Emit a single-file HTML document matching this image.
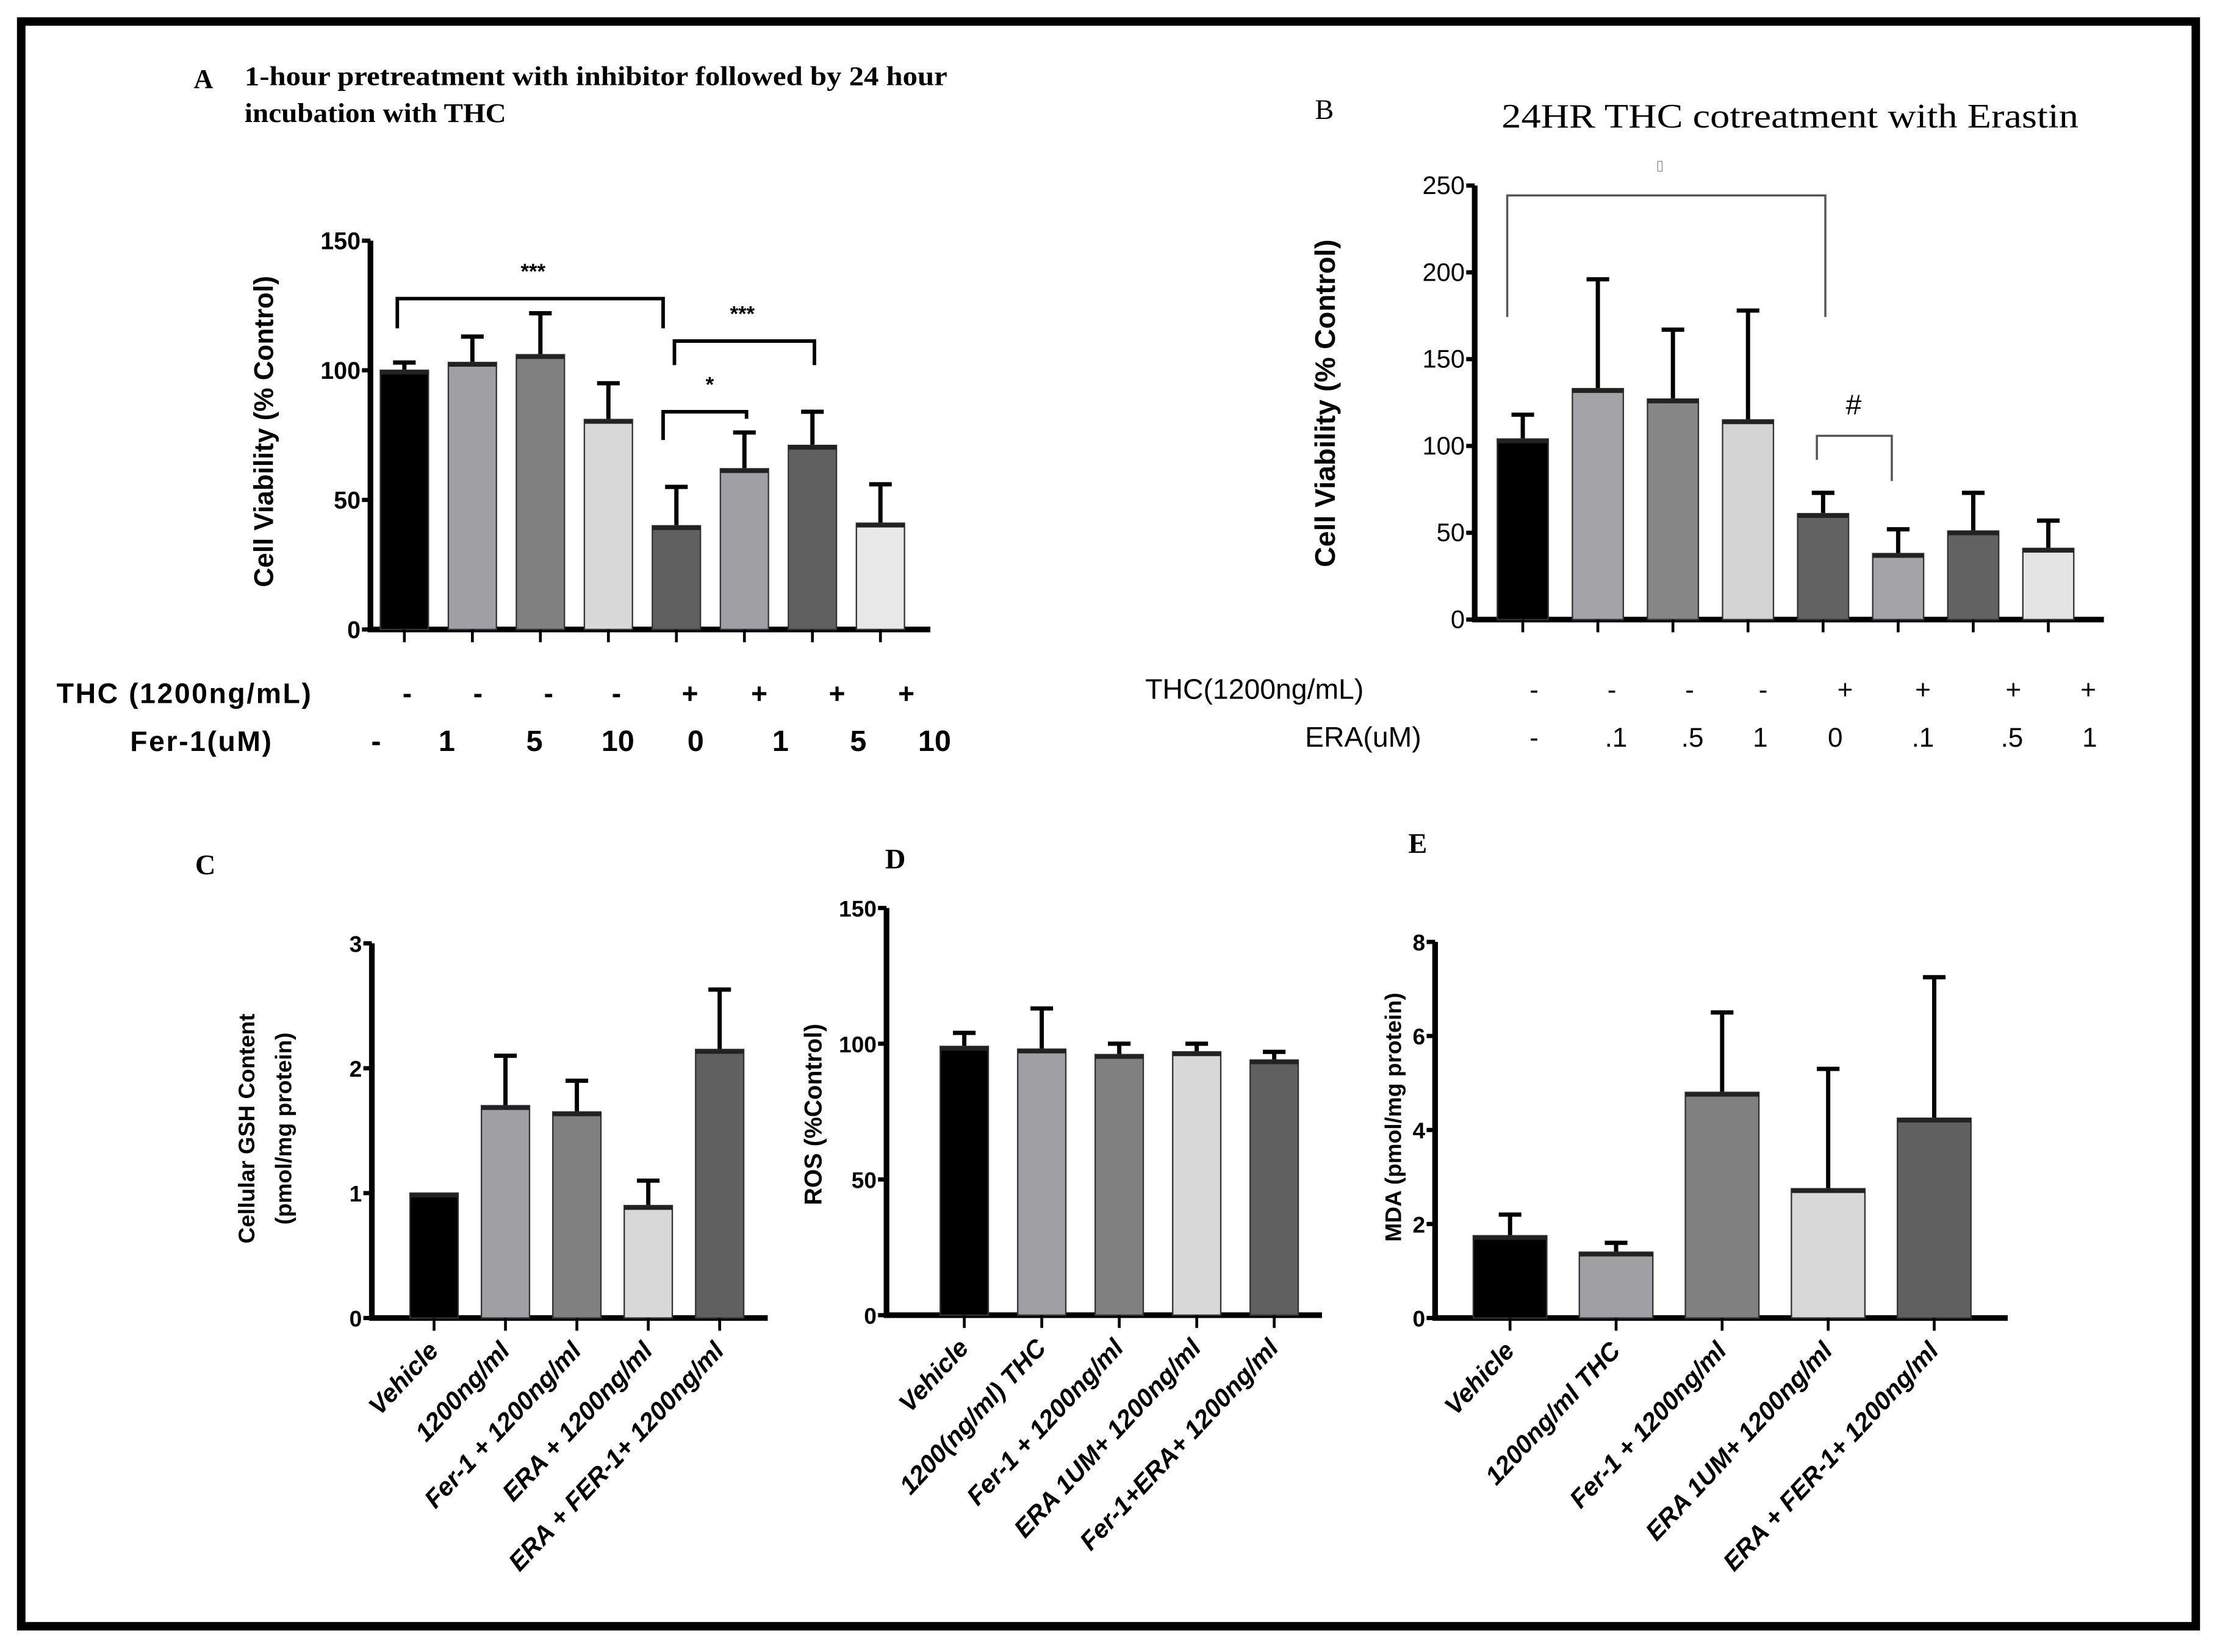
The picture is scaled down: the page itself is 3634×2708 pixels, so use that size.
<!DOCTYPE html>
<html><head><meta charset="utf-8"><style>
html,body{margin:0;padding:0;background:#fff}
svg{display:block}
text{font-family:"Liberation Sans",sans-serif}
.serif{font-family:"Liberation Serif",serif}
</style></head><body>
<svg id="fig" xmlns="http://www.w3.org/2000/svg" width="3634" height="2708" viewBox="0 0 1568 1168">
<rect x="0" y="0" width="1568" height="1168" fill="#fff"/>
<rect x="15" y="15" width="1538" height="1135" fill="none" stroke="#000" stroke-width="6"/>
<g id="root"></g>
</svg>
<script>
// Panel A
const aCats = ["1","2","3","4","5","6","7","8"];
const aVals = [100, 103, 106, 81, 40, 62, 71, 41];
const aErrs = [103, 113, 122, 95, 55, 76, 84, 56];
const aTicks = [0, 50, 100, 150];
const aRow1 = ["-","-","-","-","+","+","+","+"];
const aRow2 = ["-","1","5","10","0","1","5","10"];
// Panel B
const bCats = ["1","2","3","4","5","6","7","8"];
const bVals = [104, 133, 127, 115, 61, 38, 51, 41];
const bErrs = [118, 196, 167, 178, 73, 52, 73, 57];
const bTicks = [0, 50, 100, 150, 200, 250];
const bRow1 = ["-","-","-","-","+","+","+","+"];
const bRow2 = ["-",".1",".5","1","0",".1",".5","1"];
// Panel C
const cCats = ["Vehicle","1200ng/ml","Fer-1 + 1200ng/ml","ERA + 1200ng/ml","ERA + FER-1+ 1200ng/ml"];
const cVals = [1.0, 1.7, 1.65, 0.9, 2.15];
const cErrs = [1.0, 2.1, 1.9, 1.1, 2.63];
const cTicks = [0, 1, 2, 3];
// Panel D
const dCats = ["Vehicle","1200(ng/ml) THC","Fer-1 + 1200ng/ml","ERA 1UM+ 1200ng/ml","Fer-1+ERA+ 1200ng/ml"];
const dVals = [99, 98, 96, 97, 94];
const dErrs = [104, 113, 100, 100, 97];
const dTicks = [0, 50, 100, 150];
// Panel E
const eCats = ["Vehicle","1200ng/ml THC","Fer-1 + 1200ng/ml","ERA 1UM+ 1200ng/ml","ERA + FER-1+ 1200ng/ml"];
const eVals = [1.75, 1.4, 4.8, 2.75, 4.25];
const eErrs = [2.2, 1.6, 6.5, 5.3, 7.25];
const eTicks = [0, 2, 4, 6, 8];

const NS = "http://www.w3.org/2000/svg";
const root = document.getElementById('root');
function el(tag, attrs, parent, txt){
  const e = document.createElementNS(NS, tag);
  for (const k in attrs) e.setAttribute(k, attrs[k]);
  if (txt !== undefined) e.textContent = txt;
  (parent || root).appendChild(e);
  return e;
}
function panel(p){
  const g = el('g', {});
  
  
  const y = v => p.y0 - (v - p.min) / (p.max - p.min) * (p.y0 - p.yTop);
  const x = i => p.x1 + i * p.step;
  const ya = el('line', {x1:p.ax, y1:p.yTop, x2:p.ax, y2:p.y0, stroke:'#000','stroke-width':4}, g);
  
  
  const xa = el('line', {x1:p.ax-2, y1:p.y0, x2:p.axEnd, y2:p.y0, stroke:'#000','stroke-width':4}, g);
  
  
  p.ticks.forEach(t => {
    el('line', {x1:p.ax-6, y1:y(t), x2:p.ax, y2:y(t), stroke:'#000','stroke-width':3}, g);
    const tl = el('text', {x:p.ax-7, y:y(t)+6, 'text-anchor':'end','font-size':p.tickFs,'font-weight':p.bold?'bold':'normal'}, g, String(t));
    
    
  });
  p.vals.forEach((v, i) => {
    const cx = x(i);
    const e = el('line', {x1:cx, y1:y(v), x2:cx, y2:y(p.errs[i]), stroke:'#000','stroke-width':3}, g);
    
    
    if (p.errs[i] > v) el('line', {x1:cx-8, y1:y(p.errs[i]), x2:cx+8, y2:y(p.errs[i]), stroke:'#000','stroke-width':3}, g);
    const r = el('rect', {x:cx-p.bw/2, y:y(v), width:p.bw, height:p.y0-y(v), fill:p.colors[i], stroke:'#333','stroke-width':1}, g);
    
    
    el('line', {x1:cx-p.bw/2, y1:y(v)+1.5, x2:cx+p.bw/2, y2:y(v)+1.5, stroke:'#222','stroke-width':3}, g);
    el('line', {x1:cx, y1:p.y0, x2:cx, y2:p.y0+9, stroke:'#000','stroke-width':2}, g);
    if (p.rot) {
      const lt = el('text', {x:cx+4, y:p.y0+24, 'text-anchor':'end','font-size':18,'font-weight':'bold','font-style':'italic', transform:`rotate(-47 ${cx+4} ${p.y0+24})`}, g, p.cats[i]);
      
      
    }
  });
  return {g, x, y};
}
const shades = ["#000","#a0a0a4","#808080","#d8d8d8","#606060","#a0a0a4","#606060","#e8e8e8"];
// A
const A = panel({name:'panel-a', ax:262, axEnd:658, yTop:170, y0:445, min:0, max:150, ticks:aTicks, vals:aVals, errs:aErrs, cats:aCats, x1:286, step:48.1, bw:34, colors:shades, tickFs:17, bold:true});
[[281,469,211,232,232,'***',377],[477,576,241,258,258,'***',525],[469,528,291,311,296,'*',502]].forEach(b=>{
  const br = el('path', {d:`M${b[0]} ${b[3]} V${b[2]} H${b[1]} V${b[4]}`, fill:'none', stroke:'#000','stroke-width':2.5}, A.g);
  
  
  el('text', {x:b[6], y:b[2]-14, 'text-anchor':'middle','font-size':15,'font-weight':'bold'}, A.g, b[5]);
});
const aR1x=[288,338,388,436,488,537,592,641], aR2x=[266,316,378,437,492,552,607,661];
aRow1.forEach((t,i)=>el('text',{x:aR1x[i],y:497,'text-anchor':'middle','font-size':20,'font-weight':'bold'},A.g,t));
aRow2.forEach((t,i)=>el('text',{x:aR2x[i],y:531,'text-anchor':'middle','font-size':21,'font-weight':'bold'},A.g,t));
el('text',{x:40,y:497,'font-size':20,'font-weight':'bold','textLength':180},A.g,'THC (1200ng/mL)');
el('text',{x:92,y:531,'font-size':20,'font-weight':'bold','textLength':100},A.g,'Fer-1(uM)');
el('text',{x:0,y:0,'text-anchor':'middle','font-size':19,'font-weight':'bold',transform:'translate(193 305) rotate(-90)'},A.g,'Cell Viability (% Control)');
el('text',{x:137,y:62,'font-size':19,'font-weight':'bold',class:'serif'},A.g,'A');
el('text',{x:173,y:60,'font-size':19,'font-weight':'bold',class:'serif','textLength':497,'lengthAdjust':'spacingAndGlyphs'},A.g,'1-hour pretreatment with inhibitor followed by 24 hour');
el('text',{x:173,y:86,'font-size':19,'font-weight':'bold',class:'serif','textLength':185,'lengthAdjust':'spacingAndGlyphs'},A.g,'incubation with THC');
// B
const bShades=["#000","#a4a4a8","#868686","#d4d4d4","#626262","#a4a4a8","#626262","#e4e4e4"];
const B = panel({name:'panel-b', ax:1043, axEnd:1488, yTop:131, y0:438, min:0, max:250, ticks:bTicks, vals:bVals, errs:bErrs, cats:bCats, x1:1077, step:53.1, bw:36, colors:bShades, tickFs:18, bold:false});
el('path',{d:'M1066 224 V138 H1291 V224',fill:'none',stroke:'#555','stroke-width':1.5},B.g);
el('text',{x:1174,y:120,'text-anchor':'middle','font-size':10,fill:'#888'},B.g,'▯');
el('path',{d:'M1285 325 V308 H1338 V340',fill:'none',stroke:'#555','stroke-width':1.5},B.g);
el('text',{x:1311,y:293,'text-anchor':'middle','font-size':20},B.g,'#');
const bR1x=[1085,1140,1195,1247,1305,1360,1424,1477], bR2x=[1085,1143,1197,1245,1298,1360,1423,1478];
bRow1.forEach((t,i)=>el('text',{x:bR1x[i],y:494,'text-anchor':'middle','font-size':19},B.g,t));
bRow2.forEach((t,i)=>el('text',{x:bR2x[i],y:528,'text-anchor':'middle','font-size':19},B.g,t));
el('text',{x:810,y:494,'font-size':20},B.g,'THC(1200ng/mL)');
el('text',{x:923,y:528,'font-size':20},B.g,'ERA(uM)');
el('text',{x:0,y:0,'text-anchor':'middle','font-size':20,'font-weight':'bold',transform:'translate(944 285) rotate(-90)'},B.g,'Cell Viability (% Control)');
el('text',{x:930,y:84,'font-size':20,class:'serif'},B.g,'B');
el('text',{x:1062,y:90,'font-size':24,class:'serif','textLength':408,'lengthAdjust':'spacingAndGlyphs'},B.g,'24HR THC cotreatment with Erastin');
// C
const cs=["#000","#a0a0a4","#808080","#d8d8d8","#606060"];
const C = panel({name:'panel-c', ax:263, axEnd:543, yTop:667, y0:932, min:0, max:3, ticks:cTicks, vals:cVals, errs:cErrs, cats:cCats, x1:307, step:50.5, bw:34, colors:cs, tickFs:16, bold:true, rot:true});
el('text',{x:138,y:618,'font-size':20,'font-weight':'bold',class:'serif'},C.g,'C');
el('text',{x:0,y:0,'text-anchor':'middle','font-size':16,'font-weight':'bold',transform:'translate(180 798) rotate(-90)'},C.g,'Cellular GSH Content');
el('text',{x:0,y:0,'text-anchor':'middle','font-size':16,'font-weight':'bold',transform:'translate(206 798) rotate(-90)'},C.g,'(pmol/mg protein)');
// D
const D = panel({name:'panel-d', ax:627, axEnd:935, yTop:642, y0:930, min:0, max:150, ticks:dTicks, vals:dVals, errs:dErrs, cats:dCats, x1:682, step:54.8, bw:34, colors:cs, tickFs:16, bold:true, rot:true});
el('text',{x:626,y:614,'font-size':20,'font-weight':'bold',class:'serif'},D.g,'D');
el('text',{x:0,y:0,'text-anchor':'middle','font-size':17,'font-weight':'bold',transform:'translate(581 788) rotate(-90)'},D.g,'ROS (%Control)');
// E
const E = panel({name:'panel-e', ax:1015, axEnd:1420, yTop:666, y0:932, min:0, max:8, ticks:eTicks, vals:eVals, errs:eErrs, cats:eCats, x1:1068, step:75, bw:52, colors:cs, tickFs:16, bold:true, rot:true});
el('text',{x:996,y:603,'font-size':20,'font-weight':'bold',class:'serif'},E.g,'E');
el('text',{x:0,y:0,'text-anchor':'middle','font-size':16,'font-weight':'bold',transform:'translate(991 790) rotate(-90)'},E.g,'MDA (pmol/mg protein)');
</script>
</body></html>
